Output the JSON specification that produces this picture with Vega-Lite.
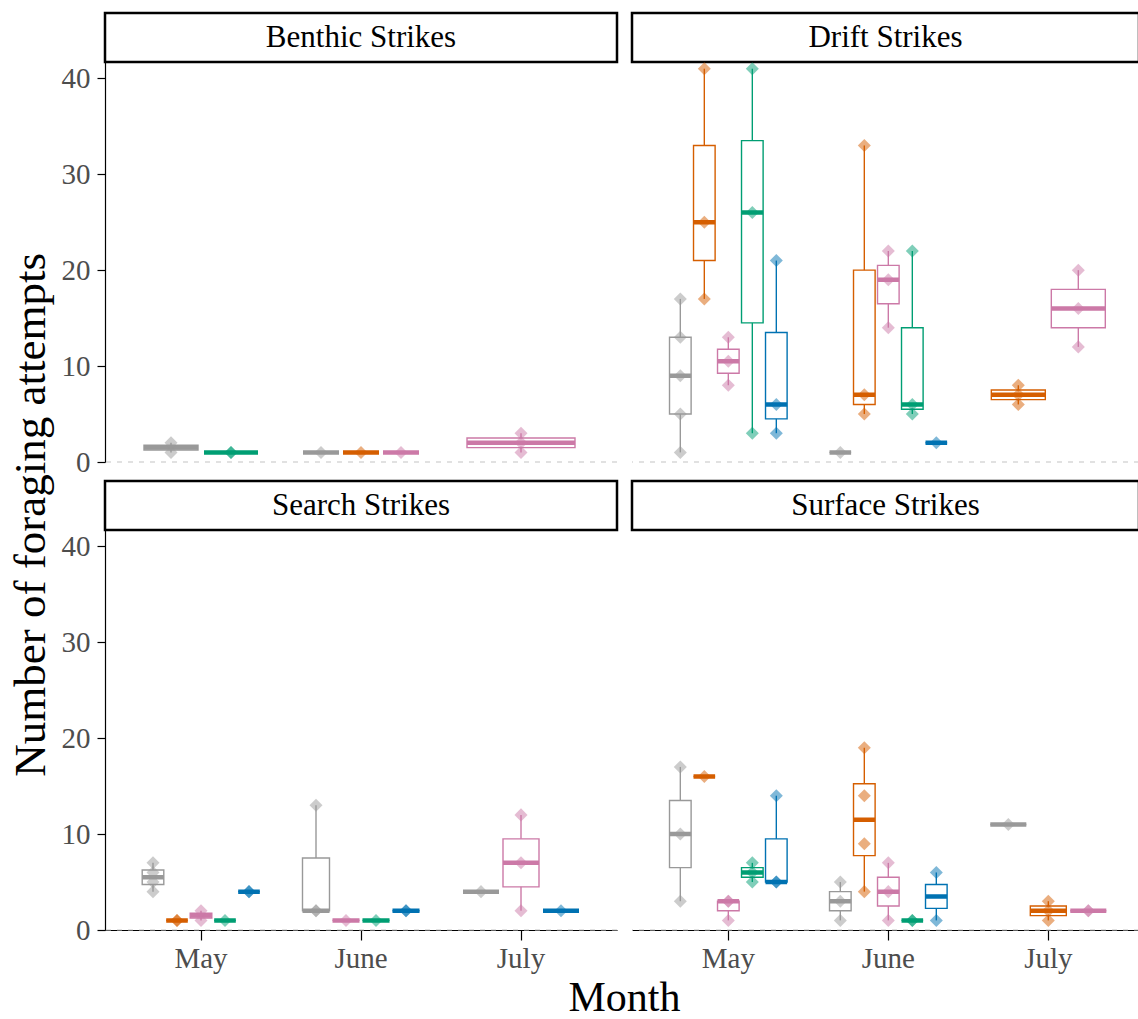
{
  "$schema": "https://vega.github.io/schema/vega-lite/v6.json",
  "padding": {"left": 8, "top": 11, "right": 0, "bottom": 2},
  "background": "white",
  "title": {"text": "Number of foraging attempts", "orient": "left", "anchor": "middle", "font": "Liberation Serif", "fontSize": 45, "fontWeight": "normal", "color": "black", "offset": 7},
  "datasets": {
    "obs": [
      {"panel": "Benthic Strikes", "month": "May", "group": "A", "attempts": 1},
      {"panel": "Benthic Strikes", "month": "May", "group": "A", "attempts": 2},
      {"panel": "Benthic Strikes", "month": "May", "group": "D", "attempts": 1},
      {"panel": "Benthic Strikes", "month": "May", "group": "D", "attempts": 1},
      {"panel": "Benthic Strikes", "month": "June", "group": "A", "attempts": 1},
      {"panel": "Benthic Strikes", "month": "June", "group": "B", "attempts": 1},
      {"panel": "Benthic Strikes", "month": "June", "group": "C", "attempts": 1},
      {"panel": "Benthic Strikes", "month": "July", "group": "C", "attempts": 1},
      {"panel": "Benthic Strikes", "month": "July", "group": "C", "attempts": 2},
      {"panel": "Benthic Strikes", "month": "July", "group": "C", "attempts": 3},

      {"panel": "Drift Strikes", "month": "May", "group": "A", "attempts": 1},
      {"panel": "Drift Strikes", "month": "May", "group": "A", "attempts": 5},
      {"panel": "Drift Strikes", "month": "May", "group": "A", "attempts": 9},
      {"panel": "Drift Strikes", "month": "May", "group": "A", "attempts": 13},
      {"panel": "Drift Strikes", "month": "May", "group": "A", "attempts": 17},
      {"panel": "Drift Strikes", "month": "May", "group": "B", "attempts": 17},
      {"panel": "Drift Strikes", "month": "May", "group": "B", "attempts": 25},
      {"panel": "Drift Strikes", "month": "May", "group": "B", "attempts": 41},
      {"panel": "Drift Strikes", "month": "May", "group": "C", "attempts": 8},
      {"panel": "Drift Strikes", "month": "May", "group": "C", "attempts": 10.5},
      {"panel": "Drift Strikes", "month": "May", "group": "C", "attempts": 13},
      {"panel": "Drift Strikes", "month": "May", "group": "D", "attempts": 3},
      {"panel": "Drift Strikes", "month": "May", "group": "D", "attempts": 26},
      {"panel": "Drift Strikes", "month": "May", "group": "D", "attempts": 41},
      {"panel": "Drift Strikes", "month": "May", "group": "E", "attempts": 3},
      {"panel": "Drift Strikes", "month": "May", "group": "E", "attempts": 6},
      {"panel": "Drift Strikes", "month": "May", "group": "E", "attempts": 21},
      {"panel": "Drift Strikes", "month": "June", "group": "A", "attempts": 1},
      {"panel": "Drift Strikes", "month": "June", "group": "B", "attempts": 5},
      {"panel": "Drift Strikes", "month": "June", "group": "B", "attempts": 7},
      {"panel": "Drift Strikes", "month": "June", "group": "B", "attempts": 33},
      {"panel": "Drift Strikes", "month": "June", "group": "C", "attempts": 14},
      {"panel": "Drift Strikes", "month": "June", "group": "C", "attempts": 19},
      {"panel": "Drift Strikes", "month": "June", "group": "C", "attempts": 22},
      {"panel": "Drift Strikes", "month": "June", "group": "D", "attempts": 5},
      {"panel": "Drift Strikes", "month": "June", "group": "D", "attempts": 6},
      {"panel": "Drift Strikes", "month": "June", "group": "D", "attempts": 22},
      {"panel": "Drift Strikes", "month": "June", "group": "E", "attempts": 2},
      {"panel": "Drift Strikes", "month": "July", "group": "B", "attempts": 6},
      {"panel": "Drift Strikes", "month": "July", "group": "B", "attempts": 7},
      {"panel": "Drift Strikes", "month": "July", "group": "B", "attempts": 8},
      {"panel": "Drift Strikes", "month": "July", "group": "C", "attempts": 12},
      {"panel": "Drift Strikes", "month": "July", "group": "C", "attempts": 16},
      {"panel": "Drift Strikes", "month": "July", "group": "C", "attempts": 20},

      {"panel": "Search Strikes", "month": "May", "group": "A", "attempts": 4},
      {"panel": "Search Strikes", "month": "May", "group": "A", "attempts": 5},
      {"panel": "Search Strikes", "month": "May", "group": "A", "attempts": 6},
      {"panel": "Search Strikes", "month": "May", "group": "A", "attempts": 7},
      {"panel": "Search Strikes", "month": "May", "group": "B", "attempts": 1},
      {"panel": "Search Strikes", "month": "May", "group": "B", "attempts": 1},
      {"panel": "Search Strikes", "month": "May", "group": "C", "attempts": 1},
      {"panel": "Search Strikes", "month": "May", "group": "C", "attempts": 2},
      {"panel": "Search Strikes", "month": "May", "group": "D", "attempts": 1},
      {"panel": "Search Strikes", "month": "May", "group": "E", "attempts": 4},
      {"panel": "Search Strikes", "month": "May", "group": "E", "attempts": 4},
      {"panel": "Search Strikes", "month": "June", "group": "A", "attempts": 2},
      {"panel": "Search Strikes", "month": "June", "group": "A", "attempts": 2},
      {"panel": "Search Strikes", "month": "June", "group": "A", "attempts": 13},
      {"panel": "Search Strikes", "month": "June", "group": "C", "attempts": 1},
      {"panel": "Search Strikes", "month": "June", "group": "D", "attempts": 1},
      {"panel": "Search Strikes", "month": "June", "group": "E", "attempts": 2},
      {"panel": "Search Strikes", "month": "June", "group": "E", "attempts": 2},
      {"panel": "Search Strikes", "month": "July", "group": "A", "attempts": 4},
      {"panel": "Search Strikes", "month": "July", "group": "C", "attempts": 2},
      {"panel": "Search Strikes", "month": "July", "group": "C", "attempts": 7},
      {"panel": "Search Strikes", "month": "July", "group": "C", "attempts": 12},
      {"panel": "Search Strikes", "month": "July", "group": "E", "attempts": 2},

      {"panel": "Surface Strikes", "month": "May", "group": "A", "attempts": 3},
      {"panel": "Surface Strikes", "month": "May", "group": "A", "attempts": 10},
      {"panel": "Surface Strikes", "month": "May", "group": "A", "attempts": 17},
      {"panel": "Surface Strikes", "month": "May", "group": "B", "attempts": 16},
      {"panel": "Surface Strikes", "month": "May", "group": "C", "attempts": 1},
      {"panel": "Surface Strikes", "month": "May", "group": "C", "attempts": 3},
      {"panel": "Surface Strikes", "month": "May", "group": "C", "attempts": 3},
      {"panel": "Surface Strikes", "month": "May", "group": "D", "attempts": 5},
      {"panel": "Surface Strikes", "month": "May", "group": "D", "attempts": 6},
      {"panel": "Surface Strikes", "month": "May", "group": "D", "attempts": 7},
      {"panel": "Surface Strikes", "month": "May", "group": "E", "attempts": 5},
      {"panel": "Surface Strikes", "month": "May", "group": "E", "attempts": 5},
      {"panel": "Surface Strikes", "month": "May", "group": "E", "attempts": 14},
      {"panel": "Surface Strikes", "month": "June", "group": "A", "attempts": 1},
      {"panel": "Surface Strikes", "month": "June", "group": "A", "attempts": 3},
      {"panel": "Surface Strikes", "month": "June", "group": "A", "attempts": 5},
      {"panel": "Surface Strikes", "month": "June", "group": "B", "attempts": 4},
      {"panel": "Surface Strikes", "month": "June", "group": "B", "attempts": 9},
      {"panel": "Surface Strikes", "month": "June", "group": "B", "attempts": 14},
      {"panel": "Surface Strikes", "month": "June", "group": "B", "attempts": 19},
      {"panel": "Surface Strikes", "month": "June", "group": "C", "attempts": 1},
      {"panel": "Surface Strikes", "month": "June", "group": "C", "attempts": 4},
      {"panel": "Surface Strikes", "month": "June", "group": "C", "attempts": 7},
      {"panel": "Surface Strikes", "month": "June", "group": "D", "attempts": 1},
      {"panel": "Surface Strikes", "month": "June", "group": "D", "attempts": 1},
      {"panel": "Surface Strikes", "month": "June", "group": "E", "attempts": 1},
      {"panel": "Surface Strikes", "month": "June", "group": "E", "attempts": 6},
      {"panel": "Surface Strikes", "month": "July", "group": "A", "attempts": 11},
      {"panel": "Surface Strikes", "month": "July", "group": "B", "attempts": 1},
      {"panel": "Surface Strikes", "month": "July", "group": "B", "attempts": 2},
      {"panel": "Surface Strikes", "month": "July", "group": "B", "attempts": 3},
      {"panel": "Surface Strikes", "month": "July", "group": "C", "attempts": 2},
      {"panel": "Surface Strikes", "month": "July", "group": "C", "attempts": 2}
    ]
  },
  "concat": [
    {
      "width": 512, "height": 49,
      "view": {"stroke": "black", "strokeWidth": 2.5, "fill": "white"},
      "data": {"values": [{"panel": "Benthic Strikes"}]},
      "mark": {"type": "text", "font": "Liberation Serif", "fontSize": 31, "color": "black"},
      "encoding": {"text": {"field": "panel"}}
    },
    {
      "width": 507, "height": 49,
      "view": {"stroke": "black", "strokeWidth": 2.5, "fill": "white"},
      "data": {"values": [{"panel": "Drift Strikes"}]},
      "mark": {"type": "text", "font": "Liberation Serif", "fontSize": 31, "color": "black"},
      "encoding": {"text": {"field": "panel"}}
    },
    {
      "width": 512, "height": 419,
      "layer": [
        {"data": {"values": [{"zero": 0}]}, "mark": {"type": "rule", "color": "#c4c4c4", "strokeDash": [5, 6], "strokeWidth": 1.1}, "encoding": {"y": {"field": "zero", "type": "quantitative", "scale": {"domain": [0, 41.7], "range": [400, 0], "nice": false}, "title": null}}},
        {
          "data": {"name": "obs"},
          "transform": [{"filter": {"and": [{"field": "panel", "equal": "Benthic Strikes"}, {"field": "month", "equal": "May"}]}}],
          "encoding": {
            "x": {"field": "month", "type": "ordinal", "scale": {"domain": ["May", "June", "July"], "paddingInner": 0.25, "paddingOuter": 0.225}, "axis": null},
            "xOffset": {"field": "group", "type": "nominal", "scale": {"paddingInner": 0.1, "paddingOuter": 0.05}},
            "color": {"field": "group", "type": "nominal", "scale": {"domain": ["A", "B", "C", "D", "E"], "range": ["#999999", "#D55E00", "#CC79A7", "#009E73", "#0072B2"]}, "legend": null}
          },
          "layer": [
            {
              "transform": [{"aggregate": [{"op": "min", "field": "attempts", "as": "low"}, {"op": "q1", "field": "attempts", "as": "lower"}, {"op": "median", "field": "attempts", "as": "mid"}, {"op": "q3", "field": "attempts", "as": "upper"}, {"op": "max", "field": "attempts", "as": "high"}], "groupby": ["month", "group"]}],
              "layer": [
                {"mark": {"type": "rule", "strokeWidth": 1.4}, "encoding": {"y": {"field": "low", "type": "quantitative", "scale": {"domain": [0, 41.7], "range": [400, 0], "nice": false}, "title": null}, "y2": {"field": "lower"}}},
                {"mark": {"type": "rule", "strokeWidth": 1.4}, "encoding": {"y": {"field": "upper", "type": "quantitative", "scale": {"domain": [0, 41.7], "range": [400, 0], "nice": false}, "title": null}, "y2": {"field": "high"}}},
                {"mark": {"type": "bar", "filled": false, "strokeWidth": 1.4}, "encoding": {"y": {"field": "lower", "type": "quantitative", "scale": {"domain": [0, 41.7], "range": [400, 0], "nice": false}, "title": null}, "y2": {"field": "upper"}}},
                {"mark": {"type": "bar", "filled": false, "strokeWidth": 4.5}, "encoding": {"y": {"field": "mid", "type": "quantitative", "scale": {"domain": [0, 41.7], "range": [400, 0], "nice": false}, "title": null}, "y2": {"field": "mid"}}}
              ]
            },
            {"mark": {"type": "point", "shape": "diamond", "filled": true, "size": 170, "opacity": 0.5}, "encoding": {"y": {"field": "attempts", "type": "quantitative", "scale": {"domain": [0, 41.7], "range": [400, 0], "nice": false}, "title": null}}}
          ]
        },
        {
          "data": {"name": "obs"},
          "transform": [{"filter": {"and": [{"field": "panel", "equal": "Benthic Strikes"}, {"field": "month", "equal": "June"}]}}],
          "encoding": {
            "x": {"field": "month", "type": "ordinal", "scale": {"domain": ["May", "June", "July"], "paddingInner": 0.25, "paddingOuter": 0.225}, "axis": null},
            "xOffset": {"field": "group", "type": "nominal", "scale": {"paddingInner": 0.1, "paddingOuter": 0.05}},
            "color": {"field": "group", "type": "nominal", "scale": {"domain": ["A", "B", "C", "D", "E"], "range": ["#999999", "#D55E00", "#CC79A7", "#009E73", "#0072B2"]}, "legend": null}
          },
          "layer": [
            {
              "transform": [{"aggregate": [{"op": "min", "field": "attempts", "as": "low"}, {"op": "q1", "field": "attempts", "as": "lower"}, {"op": "median", "field": "attempts", "as": "mid"}, {"op": "q3", "field": "attempts", "as": "upper"}, {"op": "max", "field": "attempts", "as": "high"}], "groupby": ["month", "group"]}],
              "layer": [
                {"mark": {"type": "rule", "strokeWidth": 1.4}, "encoding": {"y": {"field": "low", "type": "quantitative", "scale": {"domain": [0, 41.7], "range": [400, 0], "nice": false}, "title": null}, "y2": {"field": "lower"}}},
                {"mark": {"type": "rule", "strokeWidth": 1.4}, "encoding": {"y": {"field": "upper", "type": "quantitative", "scale": {"domain": [0, 41.7], "range": [400, 0], "nice": false}, "title": null}, "y2": {"field": "high"}}},
                {"mark": {"type": "bar", "filled": false, "strokeWidth": 1.4}, "encoding": {"y": {"field": "lower", "type": "quantitative", "scale": {"domain": [0, 41.7], "range": [400, 0], "nice": false}, "title": null}, "y2": {"field": "upper"}}},
                {"mark": {"type": "bar", "filled": false, "strokeWidth": 4.5}, "encoding": {"y": {"field": "mid", "type": "quantitative", "scale": {"domain": [0, 41.7], "range": [400, 0], "nice": false}, "title": null}, "y2": {"field": "mid"}}}
              ]
            },
            {"mark": {"type": "point", "shape": "diamond", "filled": true, "size": 170, "opacity": 0.5}, "encoding": {"y": {"field": "attempts", "type": "quantitative", "scale": {"domain": [0, 41.7], "range": [400, 0], "nice": false}, "title": null}}}
          ]
        },
        {
          "data": {"name": "obs"},
          "transform": [{"filter": {"and": [{"field": "panel", "equal": "Benthic Strikes"}, {"field": "month", "equal": "July"}]}}],
          "encoding": {
            "x": {"field": "month", "type": "ordinal", "scale": {"domain": ["May", "June", "July"], "paddingInner": 0.25, "paddingOuter": 0.225}, "axis": null},
            "xOffset": {"field": "group", "type": "nominal", "scale": {"paddingInner": 0.1, "paddingOuter": 0.05}},
            "color": {"field": "group", "type": "nominal", "scale": {"domain": ["A", "B", "C", "D", "E"], "range": ["#999999", "#D55E00", "#CC79A7", "#009E73", "#0072B2"]}, "legend": null}
          },
          "layer": [
            {
              "transform": [{"aggregate": [{"op": "min", "field": "attempts", "as": "low"}, {"op": "q1", "field": "attempts", "as": "lower"}, {"op": "median", "field": "attempts", "as": "mid"}, {"op": "q3", "field": "attempts", "as": "upper"}, {"op": "max", "field": "attempts", "as": "high"}], "groupby": ["month", "group"]}],
              "layer": [
                {"mark": {"type": "rule", "strokeWidth": 1.4}, "encoding": {"y": {"field": "low", "type": "quantitative", "scale": {"domain": [0, 41.7], "range": [400, 0], "nice": false}, "title": null}, "y2": {"field": "lower"}}},
                {"mark": {"type": "rule", "strokeWidth": 1.4}, "encoding": {"y": {"field": "upper", "type": "quantitative", "scale": {"domain": [0, 41.7], "range": [400, 0], "nice": false}, "title": null}, "y2": {"field": "high"}}},
                {"mark": {"type": "bar", "filled": false, "strokeWidth": 1.4}, "encoding": {"y": {"field": "lower", "type": "quantitative", "scale": {"domain": [0, 41.7], "range": [400, 0], "nice": false}, "title": null}, "y2": {"field": "upper"}}},
                {"mark": {"type": "bar", "filled": false, "strokeWidth": 4.5}, "encoding": {"y": {"field": "mid", "type": "quantitative", "scale": {"domain": [0, 41.7], "range": [400, 0], "nice": false}, "title": null}, "y2": {"field": "mid"}}}
              ]
            },
            {"mark": {"type": "point", "shape": "diamond", "filled": true, "size": 170, "opacity": 0.5}, "encoding": {"y": {"field": "attempts", "type": "quantitative", "scale": {"domain": [0, 41.7], "range": [400, 0], "nice": false}, "title": null}}}
          ]
        }
      ],
      "resolve": {"scale": {"xOffset": "independent"}}
    },
    {
      "width": 507, "height": 419,
      "layer": [
        {"data": {"values": [{"zero": 0}]}, "mark": {"type": "rule", "color": "#c4c4c4", "strokeDash": [5, 6], "strokeWidth": 1.1}, "encoding": {"y": {"field": "zero", "type": "quantitative", "scale": {"domain": [0, 41.7], "range": [400, 0], "nice": false}, "axis": null}}},
        {
          "data": {"name": "obs"},
          "transform": [{"filter": {"and": [{"field": "panel", "equal": "Drift Strikes"}, {"field": "month", "equal": "May"}]}}],
          "encoding": {
            "x": {"field": "month", "type": "ordinal", "scale": {"domain": ["May", "June", "July"], "paddingInner": 0.25, "paddingOuter": 0.2094, "align": 0.542}, "axis": null},
            "xOffset": {"field": "group", "type": "nominal", "scale": {"paddingInner": 0.1, "paddingOuter": 0.05}},
            "color": {"field": "group", "type": "nominal", "scale": {"domain": ["A", "B", "C", "D", "E"], "range": ["#999999", "#D55E00", "#CC79A7", "#009E73", "#0072B2"]}, "legend": null}
          },
          "layer": [
            {
              "transform": [{"aggregate": [{"op": "min", "field": "attempts", "as": "low"}, {"op": "q1", "field": "attempts", "as": "lower"}, {"op": "median", "field": "attempts", "as": "mid"}, {"op": "q3", "field": "attempts", "as": "upper"}, {"op": "max", "field": "attempts", "as": "high"}], "groupby": ["month", "group"]}],
              "layer": [
                {"mark": {"type": "rule", "strokeWidth": 1.4}, "encoding": {"y": {"field": "low", "type": "quantitative", "scale": {"domain": [0, 41.7], "range": [400, 0], "nice": false}, "axis": null}, "y2": {"field": "lower"}}},
                {"mark": {"type": "rule", "strokeWidth": 1.4}, "encoding": {"y": {"field": "upper", "type": "quantitative", "scale": {"domain": [0, 41.7], "range": [400, 0], "nice": false}, "axis": null}, "y2": {"field": "high"}}},
                {"mark": {"type": "bar", "filled": false, "strokeWidth": 1.4}, "encoding": {"y": {"field": "lower", "type": "quantitative", "scale": {"domain": [0, 41.7], "range": [400, 0], "nice": false}, "axis": null}, "y2": {"field": "upper"}}},
                {"mark": {"type": "bar", "filled": false, "strokeWidth": 4.5}, "encoding": {"y": {"field": "mid", "type": "quantitative", "scale": {"domain": [0, 41.7], "range": [400, 0], "nice": false}, "axis": null}, "y2": {"field": "mid"}}}
              ]
            },
            {"mark": {"type": "point", "shape": "diamond", "filled": true, "size": 170, "opacity": 0.5}, "encoding": {"y": {"field": "attempts", "type": "quantitative", "scale": {"domain": [0, 41.7], "range": [400, 0], "nice": false}, "axis": null}}}
          ]
        },
        {
          "data": {"name": "obs"},
          "transform": [{"filter": {"and": [{"field": "panel", "equal": "Drift Strikes"}, {"field": "month", "equal": "June"}]}}],
          "encoding": {
            "x": {"field": "month", "type": "ordinal", "scale": {"domain": ["May", "June", "July"], "paddingInner": 0.25, "paddingOuter": 0.2094, "align": 0.542}, "axis": null},
            "xOffset": {"field": "group", "type": "nominal", "scale": {"paddingInner": 0.1, "paddingOuter": 0.05}},
            "color": {"field": "group", "type": "nominal", "scale": {"domain": ["A", "B", "C", "D", "E"], "range": ["#999999", "#D55E00", "#CC79A7", "#009E73", "#0072B2"]}, "legend": null}
          },
          "layer": [
            {
              "transform": [{"aggregate": [{"op": "min", "field": "attempts", "as": "low"}, {"op": "q1", "field": "attempts", "as": "lower"}, {"op": "median", "field": "attempts", "as": "mid"}, {"op": "q3", "field": "attempts", "as": "upper"}, {"op": "max", "field": "attempts", "as": "high"}], "groupby": ["month", "group"]}],
              "layer": [
                {"mark": {"type": "rule", "strokeWidth": 1.4}, "encoding": {"y": {"field": "low", "type": "quantitative", "scale": {"domain": [0, 41.7], "range": [400, 0], "nice": false}, "axis": null}, "y2": {"field": "lower"}}},
                {"mark": {"type": "rule", "strokeWidth": 1.4}, "encoding": {"y": {"field": "upper", "type": "quantitative", "scale": {"domain": [0, 41.7], "range": [400, 0], "nice": false}, "axis": null}, "y2": {"field": "high"}}},
                {"mark": {"type": "bar", "filled": false, "strokeWidth": 1.4}, "encoding": {"y": {"field": "lower", "type": "quantitative", "scale": {"domain": [0, 41.7], "range": [400, 0], "nice": false}, "axis": null}, "y2": {"field": "upper"}}},
                {"mark": {"type": "bar", "filled": false, "strokeWidth": 4.5}, "encoding": {"y": {"field": "mid", "type": "quantitative", "scale": {"domain": [0, 41.7], "range": [400, 0], "nice": false}, "axis": null}, "y2": {"field": "mid"}}}
              ]
            },
            {"mark": {"type": "point", "shape": "diamond", "filled": true, "size": 170, "opacity": 0.5}, "encoding": {"y": {"field": "attempts", "type": "quantitative", "scale": {"domain": [0, 41.7], "range": [400, 0], "nice": false}, "axis": null}}}
          ]
        },
        {
          "data": {"name": "obs"},
          "transform": [{"filter": {"and": [{"field": "panel", "equal": "Drift Strikes"}, {"field": "month", "equal": "July"}]}}],
          "encoding": {
            "x": {"field": "month", "type": "ordinal", "scale": {"domain": ["May", "June", "July"], "paddingInner": 0.25, "paddingOuter": 0.2094, "align": 0.542}, "axis": null},
            "xOffset": {"field": "group", "type": "nominal", "scale": {"paddingInner": 0.1, "paddingOuter": 0.05}},
            "color": {"field": "group", "type": "nominal", "scale": {"domain": ["A", "B", "C", "D", "E"], "range": ["#999999", "#D55E00", "#CC79A7", "#009E73", "#0072B2"]}, "legend": null}
          },
          "layer": [
            {
              "transform": [{"aggregate": [{"op": "min", "field": "attempts", "as": "low"}, {"op": "q1", "field": "attempts", "as": "lower"}, {"op": "median", "field": "attempts", "as": "mid"}, {"op": "q3", "field": "attempts", "as": "upper"}, {"op": "max", "field": "attempts", "as": "high"}], "groupby": ["month", "group"]}],
              "layer": [
                {"mark": {"type": "rule", "strokeWidth": 1.4}, "encoding": {"y": {"field": "low", "type": "quantitative", "scale": {"domain": [0, 41.7], "range": [400, 0], "nice": false}, "axis": null}, "y2": {"field": "lower"}}},
                {"mark": {"type": "rule", "strokeWidth": 1.4}, "encoding": {"y": {"field": "upper", "type": "quantitative", "scale": {"domain": [0, 41.7], "range": [400, 0], "nice": false}, "axis": null}, "y2": {"field": "high"}}},
                {"mark": {"type": "bar", "filled": false, "strokeWidth": 1.4}, "encoding": {"y": {"field": "lower", "type": "quantitative", "scale": {"domain": [0, 41.7], "range": [400, 0], "nice": false}, "axis": null}, "y2": {"field": "upper"}}},
                {"mark": {"type": "bar", "filled": false, "strokeWidth": 4.5}, "encoding": {"y": {"field": "mid", "type": "quantitative", "scale": {"domain": [0, 41.7], "range": [400, 0], "nice": false}, "axis": null}, "y2": {"field": "mid"}}}
              ]
            },
            {"mark": {"type": "point", "shape": "diamond", "filled": true, "size": 170, "opacity": 0.5}, "encoding": {"y": {"field": "attempts", "type": "quantitative", "scale": {"domain": [0, 41.7], "range": [400, 0], "nice": false}, "axis": null}}}
          ]
        }
      ],
      "resolve": {"scale": {"xOffset": "independent"}}
    },
    {
      "width": 512, "height": 49,
      "view": {"stroke": "black", "strokeWidth": 2.5, "fill": "white"},
      "data": {"values": [{"panel": "Search Strikes"}]},
      "mark": {"type": "text", "font": "Liberation Serif", "fontSize": 31, "color": "black"},
      "encoding": {"text": {"field": "panel"}}
    },
    {
      "width": 507, "height": 49,
      "view": {"stroke": "black", "strokeWidth": 2.5, "fill": "white"},
      "data": {"values": [{"panel": "Surface Strikes"}]},
      "mark": {"type": "text", "font": "Liberation Serif", "fontSize": 31, "color": "black"},
      "encoding": {"text": {"field": "panel"}}
    },
    {
      "width": 512, "height": 400,
      "layer": [
        {"data": {"values": [{"zero": 0}]}, "mark": {"type": "rule", "color": "#c4c4c4", "strokeDash": [5, 6], "strokeWidth": 1.1}, "encoding": {"y": {"field": "zero", "type": "quantitative", "scale": {"domain": [0, 41.7], "range": [400, 0], "nice": false}, "title": null}}},
        {
          "data": {"name": "obs"},
          "transform": [{"filter": {"and": [{"field": "panel", "equal": "Search Strikes"}, {"field": "month", "equal": "May"}]}}],
          "encoding": {
            "x": {"field": "month", "type": "ordinal", "scale": {"domain": ["May", "June", "July"], "paddingInner": 0.25, "paddingOuter": 0.225}, "axis": {"title": "Month", "titleX": 519}},
            "xOffset": {"field": "group", "type": "nominal", "scale": {"paddingInner": 0.1, "paddingOuter": 0.05}},
            "color": {"field": "group", "type": "nominal", "scale": {"domain": ["A", "B", "C", "D", "E"], "range": ["#999999", "#D55E00", "#CC79A7", "#009E73", "#0072B2"]}, "legend": null}
          },
          "layer": [
            {
              "transform": [{"aggregate": [{"op": "min", "field": "attempts", "as": "low"}, {"op": "q1", "field": "attempts", "as": "lower"}, {"op": "median", "field": "attempts", "as": "mid"}, {"op": "q3", "field": "attempts", "as": "upper"}, {"op": "max", "field": "attempts", "as": "high"}], "groupby": ["month", "group"]}],
              "layer": [
                {"mark": {"type": "rule", "strokeWidth": 1.4}, "encoding": {"y": {"field": "low", "type": "quantitative", "scale": {"domain": [0, 41.7], "range": [400, 0], "nice": false}, "title": null}, "y2": {"field": "lower"}}},
                {"mark": {"type": "rule", "strokeWidth": 1.4}, "encoding": {"y": {"field": "upper", "type": "quantitative", "scale": {"domain": [0, 41.7], "range": [400, 0], "nice": false}, "title": null}, "y2": {"field": "high"}}},
                {"mark": {"type": "bar", "filled": false, "strokeWidth": 1.4}, "encoding": {"y": {"field": "lower", "type": "quantitative", "scale": {"domain": [0, 41.7], "range": [400, 0], "nice": false}, "title": null}, "y2": {"field": "upper"}}},
                {"mark": {"type": "bar", "filled": false, "strokeWidth": 4.5}, "encoding": {"y": {"field": "mid", "type": "quantitative", "scale": {"domain": [0, 41.7], "range": [400, 0], "nice": false}, "title": null}, "y2": {"field": "mid"}}}
              ]
            },
            {"mark": {"type": "point", "shape": "diamond", "filled": true, "size": 170, "opacity": 0.5}, "encoding": {"y": {"field": "attempts", "type": "quantitative", "scale": {"domain": [0, 41.7], "range": [400, 0], "nice": false}, "title": null}}}
          ]
        },
        {
          "data": {"name": "obs"},
          "transform": [{"filter": {"and": [{"field": "panel", "equal": "Search Strikes"}, {"field": "month", "equal": "June"}]}}],
          "encoding": {
            "x": {"field": "month", "type": "ordinal", "scale": {"domain": ["May", "June", "July"], "paddingInner": 0.25, "paddingOuter": 0.225}, "axis": {"title": "Month", "titleX": 519}},
            "xOffset": {"field": "group", "type": "nominal", "scale": {"paddingInner": 0.1, "paddingOuter": 0.05}},
            "color": {"field": "group", "type": "nominal", "scale": {"domain": ["A", "B", "C", "D", "E"], "range": ["#999999", "#D55E00", "#CC79A7", "#009E73", "#0072B2"]}, "legend": null}
          },
          "layer": [
            {
              "transform": [{"aggregate": [{"op": "min", "field": "attempts", "as": "low"}, {"op": "q1", "field": "attempts", "as": "lower"}, {"op": "median", "field": "attempts", "as": "mid"}, {"op": "q3", "field": "attempts", "as": "upper"}, {"op": "max", "field": "attempts", "as": "high"}], "groupby": ["month", "group"]}],
              "layer": [
                {"mark": {"type": "rule", "strokeWidth": 1.4}, "encoding": {"y": {"field": "low", "type": "quantitative", "scale": {"domain": [0, 41.7], "range": [400, 0], "nice": false}, "title": null}, "y2": {"field": "lower"}}},
                {"mark": {"type": "rule", "strokeWidth": 1.4}, "encoding": {"y": {"field": "upper", "type": "quantitative", "scale": {"domain": [0, 41.7], "range": [400, 0], "nice": false}, "title": null}, "y2": {"field": "high"}}},
                {"mark": {"type": "bar", "filled": false, "strokeWidth": 1.4}, "encoding": {"y": {"field": "lower", "type": "quantitative", "scale": {"domain": [0, 41.7], "range": [400, 0], "nice": false}, "title": null}, "y2": {"field": "upper"}}},
                {"mark": {"type": "bar", "filled": false, "strokeWidth": 4.5}, "encoding": {"y": {"field": "mid", "type": "quantitative", "scale": {"domain": [0, 41.7], "range": [400, 0], "nice": false}, "title": null}, "y2": {"field": "mid"}}}
              ]
            },
            {"mark": {"type": "point", "shape": "diamond", "filled": true, "size": 170, "opacity": 0.5}, "encoding": {"y": {"field": "attempts", "type": "quantitative", "scale": {"domain": [0, 41.7], "range": [400, 0], "nice": false}, "title": null}}}
          ]
        },
        {
          "data": {"name": "obs"},
          "transform": [{"filter": {"and": [{"field": "panel", "equal": "Search Strikes"}, {"field": "month", "equal": "July"}]}}],
          "encoding": {
            "x": {"field": "month", "type": "ordinal", "scale": {"domain": ["May", "June", "July"], "paddingInner": 0.25, "paddingOuter": 0.225}, "axis": {"title": "Month", "titleX": 519}},
            "xOffset": {"field": "group", "type": "nominal", "scale": {"paddingInner": 0.1, "paddingOuter": 0.05}},
            "color": {"field": "group", "type": "nominal", "scale": {"domain": ["A", "B", "C", "D", "E"], "range": ["#999999", "#D55E00", "#CC79A7", "#009E73", "#0072B2"]}, "legend": null}
          },
          "layer": [
            {
              "transform": [{"aggregate": [{"op": "min", "field": "attempts", "as": "low"}, {"op": "q1", "field": "attempts", "as": "lower"}, {"op": "median", "field": "attempts", "as": "mid"}, {"op": "q3", "field": "attempts", "as": "upper"}, {"op": "max", "field": "attempts", "as": "high"}], "groupby": ["month", "group"]}],
              "layer": [
                {"mark": {"type": "rule", "strokeWidth": 1.4}, "encoding": {"y": {"field": "low", "type": "quantitative", "scale": {"domain": [0, 41.7], "range": [400, 0], "nice": false}, "title": null}, "y2": {"field": "lower"}}},
                {"mark": {"type": "rule", "strokeWidth": 1.4}, "encoding": {"y": {"field": "upper", "type": "quantitative", "scale": {"domain": [0, 41.7], "range": [400, 0], "nice": false}, "title": null}, "y2": {"field": "high"}}},
                {"mark": {"type": "bar", "filled": false, "strokeWidth": 1.4}, "encoding": {"y": {"field": "lower", "type": "quantitative", "scale": {"domain": [0, 41.7], "range": [400, 0], "nice": false}, "title": null}, "y2": {"field": "upper"}}},
                {"mark": {"type": "bar", "filled": false, "strokeWidth": 4.5}, "encoding": {"y": {"field": "mid", "type": "quantitative", "scale": {"domain": [0, 41.7], "range": [400, 0], "nice": false}, "title": null}, "y2": {"field": "mid"}}}
              ]
            },
            {"mark": {"type": "point", "shape": "diamond", "filled": true, "size": 170, "opacity": 0.5}, "encoding": {"y": {"field": "attempts", "type": "quantitative", "scale": {"domain": [0, 41.7], "range": [400, 0], "nice": false}, "title": null}}}
          ]
        }
      ],
      "resolve": {"scale": {"xOffset": "independent"}}
    },
    {
      "width": 507, "height": 400,
      "layer": [
        {"data": {"values": [{"zero": 0}]}, "mark": {"type": "rule", "color": "#c4c4c4", "strokeDash": [5, 6], "strokeWidth": 1.1}, "encoding": {"y": {"field": "zero", "type": "quantitative", "scale": {"domain": [0, 41.7], "range": [400, 0], "nice": false}, "axis": null}}},
        {
          "data": {"name": "obs"},
          "transform": [{"filter": {"and": [{"field": "panel", "equal": "Surface Strikes"}, {"field": "month", "equal": "May"}]}}],
          "encoding": {
            "x": {"field": "month", "type": "ordinal", "scale": {"domain": ["May", "June", "July"], "paddingInner": 0.25, "paddingOuter": 0.2094, "align": 0.542}, "axis": {"title": null}},
            "xOffset": {"field": "group", "type": "nominal", "scale": {"paddingInner": 0.1, "paddingOuter": 0.05}},
            "color": {"field": "group", "type": "nominal", "scale": {"domain": ["A", "B", "C", "D", "E"], "range": ["#999999", "#D55E00", "#CC79A7", "#009E73", "#0072B2"]}, "legend": null}
          },
          "layer": [
            {
              "transform": [{"aggregate": [{"op": "min", "field": "attempts", "as": "low"}, {"op": "q1", "field": "attempts", "as": "lower"}, {"op": "median", "field": "attempts", "as": "mid"}, {"op": "q3", "field": "attempts", "as": "upper"}, {"op": "max", "field": "attempts", "as": "high"}], "groupby": ["month", "group"]}],
              "layer": [
                {"mark": {"type": "rule", "strokeWidth": 1.4}, "encoding": {"y": {"field": "low", "type": "quantitative", "scale": {"domain": [0, 41.7], "range": [400, 0], "nice": false}, "axis": null}, "y2": {"field": "lower"}}},
                {"mark": {"type": "rule", "strokeWidth": 1.4}, "encoding": {"y": {"field": "upper", "type": "quantitative", "scale": {"domain": [0, 41.7], "range": [400, 0], "nice": false}, "axis": null}, "y2": {"field": "high"}}},
                {"mark": {"type": "bar", "filled": false, "strokeWidth": 1.4}, "encoding": {"y": {"field": "lower", "type": "quantitative", "scale": {"domain": [0, 41.7], "range": [400, 0], "nice": false}, "axis": null}, "y2": {"field": "upper"}}},
                {"mark": {"type": "bar", "filled": false, "strokeWidth": 4.5}, "encoding": {"y": {"field": "mid", "type": "quantitative", "scale": {"domain": [0, 41.7], "range": [400, 0], "nice": false}, "axis": null}, "y2": {"field": "mid"}}}
              ]
            },
            {"mark": {"type": "point", "shape": "diamond", "filled": true, "size": 170, "opacity": 0.5}, "encoding": {"y": {"field": "attempts", "type": "quantitative", "scale": {"domain": [0, 41.7], "range": [400, 0], "nice": false}, "axis": null}}}
          ]
        },
        {
          "data": {"name": "obs"},
          "transform": [{"filter": {"and": [{"field": "panel", "equal": "Surface Strikes"}, {"field": "month", "equal": "June"}]}}],
          "encoding": {
            "x": {"field": "month", "type": "ordinal", "scale": {"domain": ["May", "June", "July"], "paddingInner": 0.25, "paddingOuter": 0.2094, "align": 0.542}, "axis": {"title": null}},
            "xOffset": {"field": "group", "type": "nominal", "scale": {"paddingInner": 0.1, "paddingOuter": 0.05}},
            "color": {"field": "group", "type": "nominal", "scale": {"domain": ["A", "B", "C", "D", "E"], "range": ["#999999", "#D55E00", "#CC79A7", "#009E73", "#0072B2"]}, "legend": null}
          },
          "layer": [
            {
              "transform": [{"aggregate": [{"op": "min", "field": "attempts", "as": "low"}, {"op": "q1", "field": "attempts", "as": "lower"}, {"op": "median", "field": "attempts", "as": "mid"}, {"op": "q3", "field": "attempts", "as": "upper"}, {"op": "max", "field": "attempts", "as": "high"}], "groupby": ["month", "group"]}],
              "layer": [
                {"mark": {"type": "rule", "strokeWidth": 1.4}, "encoding": {"y": {"field": "low", "type": "quantitative", "scale": {"domain": [0, 41.7], "range": [400, 0], "nice": false}, "axis": null}, "y2": {"field": "lower"}}},
                {"mark": {"type": "rule", "strokeWidth": 1.4}, "encoding": {"y": {"field": "upper", "type": "quantitative", "scale": {"domain": [0, 41.7], "range": [400, 0], "nice": false}, "axis": null}, "y2": {"field": "high"}}},
                {"mark": {"type": "bar", "filled": false, "strokeWidth": 1.4}, "encoding": {"y": {"field": "lower", "type": "quantitative", "scale": {"domain": [0, 41.7], "range": [400, 0], "nice": false}, "axis": null}, "y2": {"field": "upper"}}},
                {"mark": {"type": "bar", "filled": false, "strokeWidth": 4.5}, "encoding": {"y": {"field": "mid", "type": "quantitative", "scale": {"domain": [0, 41.7], "range": [400, 0], "nice": false}, "axis": null}, "y2": {"field": "mid"}}}
              ]
            },
            {"mark": {"type": "point", "shape": "diamond", "filled": true, "size": 170, "opacity": 0.5}, "encoding": {"y": {"field": "attempts", "type": "quantitative", "scale": {"domain": [0, 41.7], "range": [400, 0], "nice": false}, "axis": null}}}
          ]
        },
        {
          "data": {"name": "obs"},
          "transform": [{"filter": {"and": [{"field": "panel", "equal": "Surface Strikes"}, {"field": "month", "equal": "July"}]}}],
          "encoding": {
            "x": {"field": "month", "type": "ordinal", "scale": {"domain": ["May", "June", "July"], "paddingInner": 0.25, "paddingOuter": 0.2094, "align": 0.542}, "axis": {"title": null}},
            "xOffset": {"field": "group", "type": "nominal", "scale": {"paddingInner": 0.1, "paddingOuter": 0.05}},
            "color": {"field": "group", "type": "nominal", "scale": {"domain": ["A", "B", "C", "D", "E"], "range": ["#999999", "#D55E00", "#CC79A7", "#009E73", "#0072B2"]}, "legend": null}
          },
          "layer": [
            {
              "transform": [{"aggregate": [{"op": "min", "field": "attempts", "as": "low"}, {"op": "q1", "field": "attempts", "as": "lower"}, {"op": "median", "field": "attempts", "as": "mid"}, {"op": "q3", "field": "attempts", "as": "upper"}, {"op": "max", "field": "attempts", "as": "high"}], "groupby": ["month", "group"]}],
              "layer": [
                {"mark": {"type": "rule", "strokeWidth": 1.4}, "encoding": {"y": {"field": "low", "type": "quantitative", "scale": {"domain": [0, 41.7], "range": [400, 0], "nice": false}, "axis": null}, "y2": {"field": "lower"}}},
                {"mark": {"type": "rule", "strokeWidth": 1.4}, "encoding": {"y": {"field": "upper", "type": "quantitative", "scale": {"domain": [0, 41.7], "range": [400, 0], "nice": false}, "axis": null}, "y2": {"field": "high"}}},
                {"mark": {"type": "bar", "filled": false, "strokeWidth": 1.4}, "encoding": {"y": {"field": "lower", "type": "quantitative", "scale": {"domain": [0, 41.7], "range": [400, 0], "nice": false}, "axis": null}, "y2": {"field": "upper"}}},
                {"mark": {"type": "bar", "filled": false, "strokeWidth": 4.5}, "encoding": {"y": {"field": "mid", "type": "quantitative", "scale": {"domain": [0, 41.7], "range": [400, 0], "nice": false}, "axis": null}, "y2": {"field": "mid"}}}
              ]
            },
            {"mark": {"type": "point", "shape": "diamond", "filled": true, "size": 170, "opacity": 0.5}, "encoding": {"y": {"field": "attempts", "type": "quantitative", "scale": {"domain": [0, 41.7], "range": [400, 0], "nice": false}, "axis": null}}}
          ]
        }
      ],
      "resolve": {"scale": {"xOffset": "independent"}}
    }
  ],
  "columns": 2,
  "spacing": {"row": 0, "column": 15},
  "bounds": "flush",
  "config": {
    "view": {"stroke": null},
    "font": "Liberation Serif",
    "axis": {
      "labelFont": "Liberation Serif", "labelFontSize": 29, "labelColor": "#4d4d4d",
      "domainColor": "black", "domainWidth": 1.2, "tickColor": "black", "tickWidth": 1.2,
      "tickSize": 8, "labelPadding": 7, "grid": false,
      "titleFont": "Liberation Serif", "titleFontSize": 42, "titleFontWeight": "normal", "titleColor": "black", "titlePadding": 4
    },
    "axisY": {"tickCount": 5},
    "axisX": {"labelAngle": 0, "tickSize": 10, "labelPadding": 4}
  }
}
